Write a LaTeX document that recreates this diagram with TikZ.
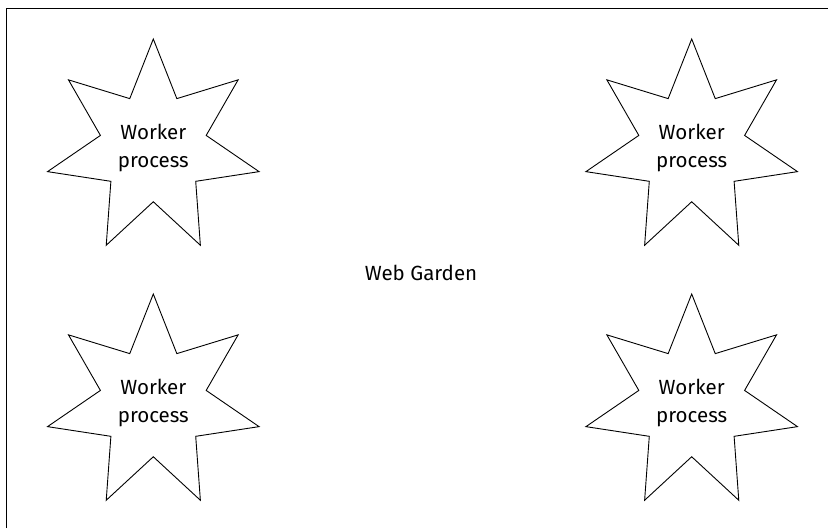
\documentclass[tikz,border=0pt]{standalone}
\usepackage{fontspec}
\setmainfont{Fira Sans}
\usetikzlibrary{shapes.geometric}
\begin{document}
\begin{tikzpicture}[x=1pt,y=1pt,
  worker/.style={star, star points=7, star point ratio=2.0, minimum size=217pt,
    draw, line width=0.9pt, inner sep=0pt, align=center,
    font=\fontsize{20.5}{28}\selectfont},
  label/.style={font=\fontsize{20.5}{28}\selectfont}]
\useasboundingbox (0,0) rectangle (828,528);
\coordinate (tl) at (6.5,519.5);
\coordinate (tr) at (828,519.5);
\coordinate (bl) at (6.5,0);
\draw[line width=1pt] (bl) -- (tl) -- (tr);
\node[worker] (w1) at (153.3,380.5) {Worker\\process};
\node[worker] (w2) at (691.7,380.5) {Worker\\process};
\node[worker] (w3) at (153.3,125.5) {Worker\\process};
\node[worker] (w4) at (691.7,125.5) {Worker\\process};
\node[label] (garden) at (421,255) {Web Garden};
\end{tikzpicture}
\end{document}
